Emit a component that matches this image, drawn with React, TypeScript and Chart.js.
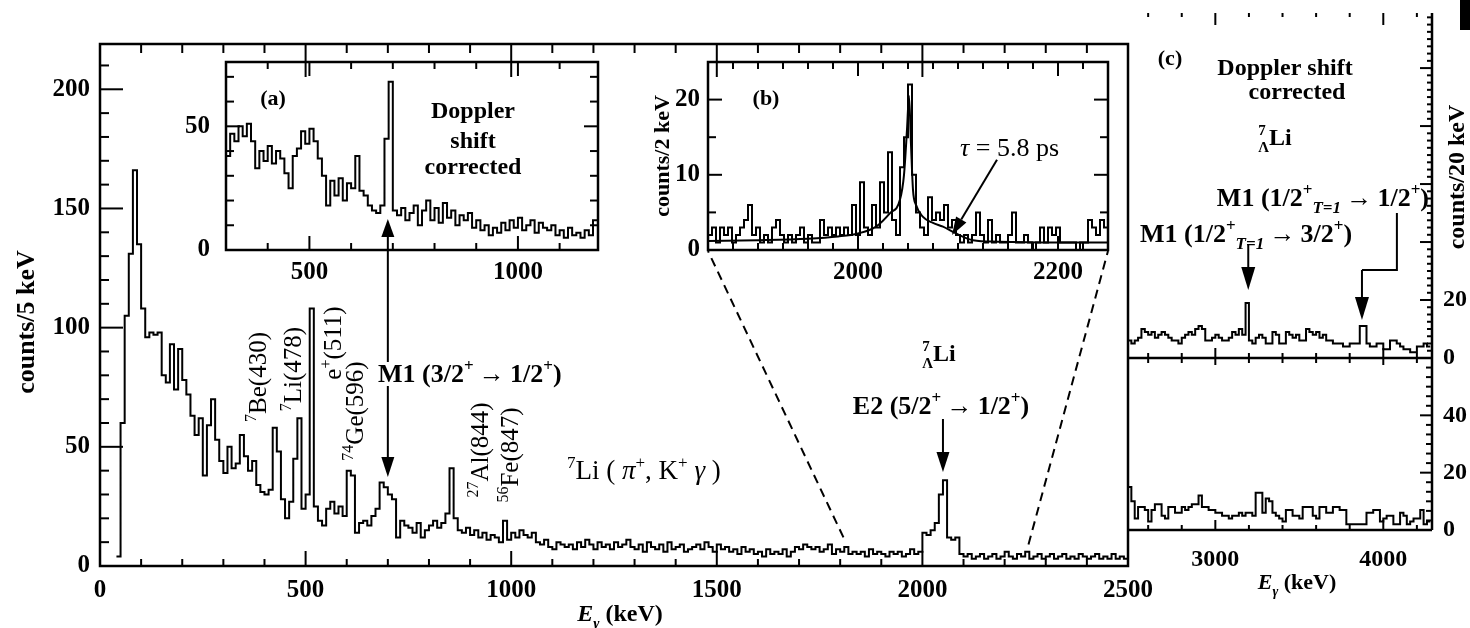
import React, { useEffect, useRef } from 'react';
import { Chart, registerables } from 'chart.js';

Chart.register(...registerables);

const SERIF = '"Liberation Serif", "Times New Roman", Times, serif';
Chart.defaults.font.family = SERIF;
Chart.defaults.color = '#000';

// ---------------- main spectrum: 7Li(pi+, K+ gamma), counts per bin ----------------
const mainStartKeV = 40;
const mainBinKeV = 10;
const mainCounts = [
  4, 60, 105, 131, 166, 135, 108, 96, 98, 97,
  98, 80, 77, 93, 74, 91, 78, 72, 63, 55,
  62, 38, 59, 70, 53, 44, 39, 50, 41, 43,
  55, 46, 40, 44, 34, 31, 30, 32, 58, 48,
  28, 20, 27, 45, 62, 24, 30, 108, 25, 19,
  17, 24, 27, 22, 25, 21, 40, 38, 14, 18,
  19, 17, 21, 24, 35, 33, 30, 28, 12, 19,
  17, 16, 14, 18, 12, 15, 17, 19, 16, 18,
  22, 41, 20, 15, 14, 16, 13, 15, 12, 14,
  11, 13, 12, 10, 19, 11, 14, 12, 15, 13,
  12, 14, 10, 9, 11, 8, 7, 10, 9, 8,
  9, 7, 10, 8, 11, 9, 7, 10, 8, 9,
  7, 10, 8, 9, 11, 8, 7, 9, 6, 10,
  8, 7, 9, 6, 10, 7, 8, 9, 6, 7,
  8, 9, 7, 10, 8, 6, 9, 7, 8, 6,
  7, 5, 8, 6, 7, 5, 6, 4, 7, 5,
  6, 5, 7, 4, 6, 8, 7, 9, 8, 7,
  8, 6, 7, 9, 5, 7, 6, 8, 5, 6,
  5, 6, 4, 7, 5, 6, 5, 4, 6, 5,
  6, 4, 5, 7, 5, 6, 14, 13, 15, 18,
  30, 36, 12, 11, 12, 5, 4, 5, 3, 4,
  5, 3, 4, 5, 3, 4, 6, 4, 3, 5,
  4, 6, 3, 4, 5, 3, 4, 5, 3, 4,
  5, 3, 4, 3, 5, 4, 3, 4, 5, 3,
  4, 3, 5, 3, 4, 3,
];
const mainXLabels = [0, 500, 1000, 1500, 2000, 2500];
const mainYLabels = [0, 50, 100, 150, 200];

// ---------------- inset (a): Doppler shift corrected ----------------
const insetAStartKeV = 300;
const insetABinKeV = 10;
const insetACounts = [
  38, 47, 44, 50, 46, 51, 44, 33, 40, 36,
  42, 35, 40, 37, 31, 25, 38, 41, 48, 43,
  49, 44, 37, 30, 18, 28, 22, 29, 20, 27,
  25, 38, 24, 22, 18, 16, 15, 18, 45, 68,
  16, 14, 17, 12, 15, 18, 10, 16, 20, 12,
  17, 11, 19, 13, 16, 10, 14, 12, 15, 9,
  12, 8, 10, 6, 9, 7, 11, 8, 12, 9,
  13, 8, 10, 12, 7, 11, 9, 8, 10, 6,
  8, 5, 9, 6, 7, 5, 8, 6, 12,
];
const insetAXLabels = [500, 1000];
const insetAYLabels = [0, 50];

// ---------------- inset (b): E2 line with lifetime fit ----------------
const insetBStartKeV = 1850;
const insetBBinKeV = 4;
const insetBCounts = [
  2, 3, 1, 3, 2, 3, 1, 2, 3, 4,
  6, 2, 3, 1, 2, 1, 3, 4, 2, 1,
  2, 1, 2, 3, 1, 2, 1, 1, 4, 2,
  3, 2, 3, 2, 3, 2, 6, 2, 9, 3,
  2, 6, 3, 9, 5, 13, 4, 2, 11, 15,
  22, 10, 5, 3, 2, 7, 4, 5, 4, 6,
  3, 4, 2, 1, 2, 1, 2, 5, 2, 1,
  4, 1, 2, 1, 1, 2, 5, 1, 1, 2,
  1, 0, 1, 3, 1, 3, 2, 3, 1, 1,
  1, 1, 0, 1, 1, 4, 3, 2, 4, 3,
];
const insetBFitKeV = [1850, 1900, 1950, 1980, 2000, 2018, 2032, 2042, 2046, 2049, 2051, 2053, 2055, 2058, 2065, 2075, 2085, 2098, 2115, 2140, 2200, 2250];
const insetBFitCounts = [1.2, 1.3, 1.5, 1.8, 2.2, 3.1, 4.9, 6.7, 10, 16, 20.5, 14, 8, 6, 4.4, 3.6, 3.1, 2.2, 1.3, 1.1, 1.0, 1.0];
const insetBXLabels = [2000, 2200];
const insetBYLabels = [0, 10, 20];

// ---------------- panel (c): high-energy region, counts / 20 keV ----------------
const panelCStartKeV = 2480;
const panelCBinKeV = 20;
const panelCUpperCounts = [
  6, 5, 6, 7, 10, 9, 8, 9, 7, 8,
  9, 8, 7, 6, 6, 5, 7, 8, 9, 8,
  10, 11, 10, 6, 6, 7, 8, 7, 6, 6,
  7, 9, 8, 10, 8, 19, 6, 5, 7, 8,
  7, 5, 5, 9, 8, 5, 5, 9, 8, 7,
  8, 6, 6, 10, 9, 8, 9, 7, 8, 6,
  6, 5, 5, 5, 4, 4, 5, 5, 5, 11,
  11, 5, 4, 4, 5, 5, 3, 3, 6, 6,
  5, 4, 3, 3, 2, 2, 4, 4, 5, 4,
];
const panelCLowerCounts = [
  15, 10, 4, 8, 8, 7, 3, 7, 9, 9,
  5, 4, 8, 8, 6, 6, 8, 7, 8, 9,
  9, 12, 8, 8, 7, 7, 6, 6, 5, 5,
  4, 5, 5, 6, 5, 6, 6, 5, 13, 13,
  6, 11, 10, 6, 5, 4, 3, 7, 7, 5,
  5, 4, 8, 8, 8, 5, 4, 8, 8, 6,
  6, 8, 8, 7, 7, 2, 2, 2, 2, 2,
  2, 6, 6, 7, 7, 3, 4, 5, 5, 2,
  2, 6, 5, 2, 3, 4, 4, 7, 2, 3,
];
const panelCXLabels = [3000, 4000];
const panelCUpperYLabels = [0, 20];
const panelCLowerYLabels = [0, 20, 40];

// ---------------- helpers ----------------
function histPoints(start: number, step: number, counts: number[]) {
  const pts = counts.map((c, i) => ({ x: start + i * step, y: c }));
  pts.push({ x: start + counts.length * step, y: counts[counts.length - 1] });
  return pts;
}

function range(a: number, b: number, s: number) {
  const r: number[] = [];
  for (let v = a; v <= b + 1e-9; v += s) r.push(Math.round(v * 1000) / 1000);
  return r;
}

function line(ctx: any, x1: number, y1: number, x2: number, y2: number) {
  ctx.beginPath();
  ctx.moveTo(x1, y1);
  ctx.lineTo(x2, y2);
  ctx.stroke();
}

function arrow(ctx: any, x1: number, y1: number, x2: number, y2: number, h = 20, w = 6.5) {
  const ang = Math.atan2(y2 - y1, x2 - x1);
  const bx = x2 - h * Math.cos(ang);
  const by = y2 - h * Math.sin(ang);
  line(ctx, x1, y1, bx, by);
  ctx.beginPath();
  ctx.moveTo(x2, y2);
  ctx.lineTo(bx + w * Math.sin(ang), by - w * Math.cos(ang));
  ctx.lineTo(bx - w * Math.sin(ang), by + w * Math.cos(ang));
  ctx.closePath();
  ctx.fill();
}

type Seg = { t: string; sup?: boolean; sub?: boolean; italic?: boolean; noAdvance?: boolean };

function rich(ctx: any, segs: Seg[], x: number, y: number, size: number,
  opts: { align?: 'left' | 'center' | 'right'; bold?: boolean; rot?: number } = {}) {
  ctx.save();
  ctx.translate(x, y);
  if (opts.rot) ctx.rotate(opts.rot);
  ctx.fillStyle = '#000';
  ctx.textBaseline = 'alphabetic';
  ctx.textAlign = 'left';
  const fontOf = (s: Seg) =>
    `${s.italic ? 'italic ' : ''}${opts.bold ? 'bold ' : ''}${s.sup || s.sub ? Math.round(size * 0.64) : size}px ${SERIF}`;
  let total = 0;
  const widths = segs.map((s) => {
    ctx.font = fontOf(s);
    const w = ctx.measureText(s.t).width;
    if (!s.noAdvance) total += w;
    return w;
  });
  let cx = opts.align === 'center' ? -total / 2 : opts.align === 'right' ? -total : 0;
  const base = size * 0.33;
  segs.forEach((s, i) => {
    ctx.font = fontOf(s);
    const dy = s.sup ? -size * 0.4 : s.sub ? size * 0.3 : 0;
    ctx.fillText(s.t, cx, base + dy);
    if (!s.noAdvance) cx += widths[i];
  });
  ctx.restore();
}

const T = (t: string): Seg => ({ t });
const SUP = (t: string): Seg => ({ t, sup: true });
const SUB = (t: string, italic = false): Seg => ({ t, sub: true, italic });
const IT = (t: string): Seg => ({ t, italic: true });
const ARR = '\u2009\u2192\u2009';

const TICK_FONT = { family: SERIF, size: 25, weight: 'bold' as const };
const TICK_FONT_S = { family: SERIF, size: 24, weight: 'bold' as const };

function scaleBase(min: number, max: number, labels: number[], font: any, padding: number, fit: (s: any) => void, extra: any = {}) {
  return {
    type: 'linear',
    min,
    max,
    grid: { display: false, drawTicks: false },
    border: { display: false },
    ticks: { color: '#000', font, padding, maxRotation: 0, autoSkip: false, callback: (v: any) => String(v) },
    afterBuildTicks: (s: any) => { s.ticks = labels.map((v) => ({ value: v })); },
    afterFit: (s: any) => {
      fit(s);
      s.paddingTop = 0;
      s.paddingBottom = 0;
      s.paddingLeft = 0;
      s.paddingRight = 0;
    },
    ...extra,
  };
}

const histDataset = (pts: any[]) => ({
  data: pts,
  stepped: 'before',
  borderColor: '#000',
  borderWidth: 2,
  pointRadius: 0,
  fill: false,
  tension: 0,
});

const commonOptions = {
  animation: false,
  responsive: false,
  maintainAspectRatio: false,
  events: [],
  plugins: { legend: { display: false }, tooltip: { enabled: false }, title: { display: false } },
};

// ---------------- decoration plugins ----------------
const mainDecor = {
  id: 'mainDecor',
  afterDraw(chart: any) {
    const ctx = chart.ctx, a = chart.chartArea, xs = chart.scales.x, ys = chart.scales.y;
    ctx.save();
    ctx.strokeStyle = '#000';
    ctx.fillStyle = '#000';
    ctx.lineWidth = 2;
    for (const v of range(100, 2400, 100)) {
      const p = xs.getPixelForValue(v);
      const major = v % 500 === 0;
      line(ctx, p, a.bottom, p, a.bottom - (major ? 15 : 7));
      line(ctx, p, a.top, p, a.top + (major ? 33 : 9));
    }
    for (const v of range(10, 210, 10)) {
      const p = ys.getPixelForValue(v);
      const major = v % 50 === 0;
      line(ctx, a.left, p, a.left + (major ? 23 : 9), p);
    }
    ctx.lineWidth = 2.5;
    ctx.strokeRect(a.left, a.top, a.right - a.left, a.bottom - a.top);

    // M1 arrow (main peak ↓ and inset (a) ↑)
    ctx.lineWidth = 2;
    const xm1 = xs.getPixelForValue(700);
    line(ctx, xm1, 250, xm1, 362);
    arrow(ctx, xm1, 386, xm1, 477);
    arrow(ctx, xm1, 250, xm1, 219, 18);
    // E2 arrow
    const xe2 = xs.getPixelForValue(2050);
    arrow(ctx, xe2, 419, xe2, 472);
    // dashed zoom lines to inset (b)
    ctx.setLineDash([9, 6]);
    line(ctx, xs.getPixelForValue(1808), ys.getPixelForValue(12), 708, 251);
    line(ctx, xs.getPixelForValue(2258), ys.getPixelForValue(9), 1108, 251);
    ctx.setLineDash([]);

    // axis titles
    rich(ctx, [T('counts/5 keV')], 25, 322, 26, { align: 'center', bold: true, rot: -Math.PI / 2 });
    rich(ctx, [IT('E'), SUB('γ', true), T(' (keV)')], 620, 613, 24, { align: 'center', bold: true });

    // line labels (rotated)
    const R = -Math.PI / 2;
    rich(ctx, [SUP('7'), T('Be(430)')], 258, 377, 25, { align: 'center', rot: R });
    rich(ctx, [SUP('7'), T('Li(478)')], 293, 369, 25, { align: 'center', rot: R });
    rich(ctx, [T('e'), SUP('+'), T('(511)')], 333, 343, 25, { align: 'center', rot: R });
    rich(ctx, [SUP('74'), T('Ge(596)')], 355, 411, 25, { align: 'center', rot: R });
    rich(ctx, [SUP('27'), T('Al(844)')], 480, 450, 25, { align: 'center', rot: R });
    rich(ctx, [SUP('56'), T('Fe(847)')], 510, 455, 25, { align: 'center', rot: R });

    rich(ctx, [T('M1 (3/2'), SUP('+'), T(ARR + '1/2'), SUP('+'), T(')')], 378, 373, 26, { bold: true });
    rich(ctx, [SUP('7'), T('Li ( '), IT('π'), SUP('+'), T(', K'), SUP('+'), T(' '), IT('γ'), T(' )')], 567, 470, 27);
    rich(ctx, [{ t: '7', sup: true, noAdvance: true }, SUB('Λ'), T('Li')], 939, 353, 24, { align: 'center', bold: true });
    rich(ctx, [T('E2 (5/2'), SUP('+'), T(ARR + '1/2'), SUP('+'), T(')')], 941, 405, 26, { align: 'center', bold: true });
    ctx.restore();
  },
};

const insetADecor = {
  id: 'insetADecor',
  afterDraw(chart: any) {
    const ctx = chart.ctx, a = chart.chartArea, xs = chart.scales.x, ys = chart.scales.y;
    ctx.save();
    ctx.strokeStyle = '#000';
    ctx.lineWidth = 2;
    for (const v of range(400, 1100, 100)) {
      const p = xs.getPixelForValue(v);
      const L = v % 500 === 0 ? 14 : 7;
      line(ctx, p, a.bottom, p, a.bottom - L);
      line(ctx, p, a.top, p, a.top + L);
    }
    for (const v of range(10, 70, 10)) {
      const p = ys.getPixelForValue(v);
      const L = v % 50 === 0 ? 14 : 8;
      line(ctx, a.left, p, a.left + L, p);
      line(ctx, a.right, p, a.right - L, p);
    }
    ctx.lineWidth = 2.5;
    ctx.strokeRect(a.left, a.top, a.right - a.left, a.bottom - a.top);
    ctx.translate(-150, -50);
    rich(ctx, [T('(a)')], 273, 98, 22, { align: 'center', bold: true });
    rich(ctx, [T('Doppler')], 473, 110, 24, { align: 'center', bold: true });
    rich(ctx, [T('shift')], 473, 140, 24, { align: 'center', bold: true });
    rich(ctx, [T('corrected')], 473, 166, 24, { align: 'center', bold: true });
    ctx.restore();
  },
};

const insetBDecor = {
  id: 'insetBDecor',
  afterDraw(chart: any) {
    const ctx = chart.ctx, a = chart.chartArea, xs = chart.scales.x, ys = chart.scales.y;
    ctx.save();
    ctx.strokeStyle = '#000';
    ctx.fillStyle = '#000';
    ctx.lineWidth = 2;
    for (const v of range(1875, 2225, 25)) {
      const p = xs.getPixelForValue(v);
      const L = v === 2000 || v === 2200 ? 14 : 7;
      line(ctx, p, a.bottom, p, a.bottom - L);
      line(ctx, p, a.top, p, a.top + L);
    }
    for (const v of range(5, 20, 5)) {
      const p = ys.getPixelForValue(v);
      const L = v % 10 === 0 ? 14 : 8;
      line(ctx, a.left, p, a.left + L, p);
      line(ctx, a.right, p, a.right - L, p);
    }
    ctx.lineWidth = 2.5;
    ctx.strokeRect(a.left, a.top, a.right - a.left, a.bottom - a.top);
    ctx.lineWidth = 2;
    arrow(ctx, xs.getPixelForValue(2139), ys.getPixelForValue(12), xs.getPixelForValue(2094), ys.getPixelForValue(2.0), 18, 6);
    ctx.translate(-640, -50);
    rich(ctx, [T('(b)')], 766, 98, 22, { align: 'center', bold: true });
    rich(ctx, [IT('τ'), T(' = 5.8 ps')], 960, 147, 26);
    rich(ctx, [T('counts/2 keV')], 662, 156, 22, { align: 'center', bold: true, rot: -Math.PI / 2 });
    ctx.restore();
  },
};

const panelUpperDecor = {
  id: 'panelUpperDecor',
  afterDraw(chart: any) {
    const ctx = chart.ctx, a = chart.chartArea, xs = chart.scales.x, ys = chart.scales.y;
    ctx.save();
    ctx.strokeStyle = '#000';
    ctx.fillStyle = '#000';
    ctx.lineWidth = 2;
    for (const v of range(2600, 4200, 200)) {
      const p = xs.getPixelForValue(v);
      const major = v === 3000 || v === 4000;
      line(ctx, p, a.top, p, a.top + (major ? 12 : 4));
      line(ctx, p, a.bottom, p, a.bottom - (major ? 10 : 5));
      line(ctx, p, a.bottom, p, a.bottom + (major ? 15 : 5));
    }
    for (const v of range(2.5, 117.5, 2.5)) {
      const p = ys.getPixelForValue(v);
      line(ctx, a.right, p, a.right - (v % 20 === 0 ? 12 : 5), p);
    }
    ctx.lineWidth = 2.5;
    line(ctx, a.right, a.top, a.right, a.bottom);
    line(ctx, a.left, a.bottom, a.right, a.bottom);
    ctx.lineWidth = 2;
    // arrows
    const x1 = xs.getPixelForValue(3196);
    arrow(ctx, x1, 245, x1, 290, 23, 7);
    const xa = xs.getPixelForValue(4081), xb = xs.getPixelForValue(3873);
    ctx.beginPath();
    ctx.moveTo(xa, 213);
    ctx.lineTo(xa, 270);
    ctx.lineTo(xb, 270);
    ctx.stroke();
    arrow(ctx, xb, 270, xb, 320, 23, 7);

    ctx.translate(-1118, 0);
    rich(ctx, [T('(c)')], 1170, 58, 22, { align: 'center', bold: true });
    rich(ctx, [T('Doppler shift')], 1285, 67, 24, { align: 'center', bold: true });
    rich(ctx, [T('corrected')], 1297, 91, 24, { align: 'center', bold: true });
    rich(ctx, [{ t: '7', sup: true, noAdvance: true }, SUB('Λ'), T('Li')], 1275, 137, 24, { align: 'center', bold: true });
    rich(ctx, [T('M1 (1/2'), SUP('+'), SUB('T=1', true), T(ARR + '1/2'), SUP('+'), T(')')], 1429, 197, 26, { align: 'right', bold: true });
    rich(ctx, [T('M1 (1/2'), SUP('+'), SUB('T=1', true), T(ARR + '3/2'), SUP('+'), T(')')], 1140, 233, 26, { bold: true });
    rich(ctx, [T('counts/20 keV')], 1456, 177, 24, { align: 'center', bold: true, rot: -Math.PI / 2 });
    ctx.restore();
  },
};

const panelLowerDecor = {
  id: 'panelLowerDecor',
  afterDraw(chart: any) {
    const ctx = chart.ctx, a = chart.chartArea, xs = chart.scales.x, ys = chart.scales.y;
    ctx.save();
    ctx.strokeStyle = '#000';
    ctx.fillStyle = '#000';
    ctx.lineWidth = 2;
    for (const v of range(2600, 4200, 200)) {
      const p = xs.getPixelForValue(v);
      const major = v === 3000 || v === 4000;
      line(ctx, p, a.bottom, p, a.bottom - (major ? 10 : 5));
    }
    for (let k = 1; k < 18; k++) {
      const v = (k * 20) / 6;
      const p = ys.getPixelForValue(v);
      line(ctx, a.right, p, a.right - (k % 6 === 0 ? 12 : 6), p);
    }
    ctx.lineWidth = 2.5;
    line(ctx, a.right, a.top, a.right, a.bottom);
    line(ctx, a.left, a.bottom, a.right, a.bottom);
    ctx.translate(-1118, -350);
    rich(ctx, [IT('E'), SUB('γ', true), T(' (keV)')], 1297, 582, 22, { align: 'center', bold: true });
    ctx.restore();
  },
};

// ---------------- component ----------------
export default function App() {
  const mainRef = useRef<HTMLCanvasElement>(null);
  const aRef = useRef<HTMLCanvasElement>(null);
  const bRef = useRef<HTMLCanvasElement>(null);
  const cuRef = useRef<HTMLCanvasElement>(null);
  const clRef = useRef<HTMLCanvasElement>(null);

  useEffect(() => {
    const charts: any[] = [];
    const lay = (left: number, top: number, right: number, bottom: number) => ({
      autoPadding: false,
      padding: { left, top, right, bottom },
    });

    charts.push(new Chart(mainRef.current as any, {
      type: 'line',
      data: { datasets: [histDataset(histPoints(mainStartKeV, mainBinKeV, mainCounts)) as any] },
      options: {
        ...commonOptions,
        layout: lay(0, 44, 342, 0),
        scales: {
          x: scaleBase(0, 2500, mainXLabels, TICK_FONT, 10, (s: any) => { s.height = 62; }),
          y: scaleBase(0, 219, mainYLabels, TICK_FONT, 10, (s: any) => { s.width = 100; }),
        },
      } as any,
      plugins: [mainDecor],
    }));

    charts.push(new Chart(aRef.current as any, {
      type: 'line',
      data: { datasets: [histDataset(histPoints(insetAStartKeV, insetABinKeV, insetACounts)) as any] },
      options: {
        ...commonOptions,
        layout: lay(0, 12, 12, 0),
        scales: {
          x: scaleBase(300, 1192, insetAXLabels, TICK_FONT, 8, (s: any) => { s.height = 40; }),
          y: scaleBase(0, 76, insetAYLabels, TICK_FONT, 16, (s: any) => { s.width = 76; }),
        },
      } as any,
      plugins: [insetADecor],
    }));

    charts.push(new Chart(bRef.current as any, {
      type: 'line',
      data: {
        datasets: [
          histDataset(histPoints(insetBStartKeV, insetBBinKeV, insetBCounts)) as any,
          {
            data: insetBFitKeV.map((x, i) => ({ x, y: insetBFitCounts[i] })),
            borderColor: '#000',
            borderWidth: 2,
            pointRadius: 0,
            fill: false,
            cubicInterpolationMode: 'monotone',
          } as any,
        ],
      },
      options: {
        ...commonOptions,
        layout: lay(0, 12, 12, 0),
        scales: {
          x: scaleBase(1850, 2250, insetBXLabels, TICK_FONT, 8, (s: any) => { s.height = 40; }),
          y: scaleBase(0, 25, insetBYLabels, TICK_FONT, 8, (s: any) => { s.width = 68; }),
        },
      } as any,
      plugins: [insetBDecor],
    }));

    charts.push(new Chart(cuRef.current as any, {
      type: 'line',
      data: { datasets: [histDataset(histPoints(panelCStartKeV, panelCBinKeV, panelCUpperCounts)) as any] },
      options: {
        ...commonOptions,
        layout: lay(10, 13, 0, 7),
        scales: {
          x: { type: 'linear', min: 2480, max: 4290, display: false },
          y: scaleBase(0, 119, panelCUpperYLabels, TICK_FONT_S, 11, (s: any) => { s.width = 38; }, { position: 'right' }),
        },
      } as any,
      plugins: [panelUpperDecor],
    }));

    charts.push(new Chart(clRef.current as any, {
      type: 'line',
      data: { datasets: [histDataset(histPoints(panelCStartKeV, panelCBinKeV, panelCLowerCounts)) as any] },
      options: {
        ...commonOptions,
        layout: lay(10, 8, 0, 0),
        scales: {
          x: scaleBase(2480, 4290, panelCXLabels, TICK_FONT_S, 15, (s: any) => { s.height = 98; }),
          y: scaleBase(0, 60, panelCLowerYLabels, TICK_FONT_S, 11, (s: any) => { s.width = 38; }, { position: 'right' }),
        },
      } as any,
      plugins: [panelLowerDecor],
    }));

    return () => { charts.forEach((c) => c.destroy()); };
  }, []);

  const cv = (ref: any, x: number, y: number, w: number, h: number) => (
    <canvas ref={ref} width={w} height={h} style={{ position: 'absolute', left: x, top: y, width: w, height: h }} />
  );

  return (
    <div style={{ position: 'fixed', left: 0, top: 0, width: 1470, height: 628, background: '#fff', overflow: 'hidden' }}>
      {cv(mainRef, 0, 0, 1470, 628)}
      {cv(aRef, 150, 50, 460, 240)}
      {cv(bRef, 640, 50, 480, 240)}
      {cv(cuRef, 1118, 0, 352, 365)}
      {cv(clRef, 1118, 350, 352, 278)}
      <div style={{ position: 'absolute', left: 1460, top: 0, width: 10, height: 30, background: '#000' }} />
    </div>
  );
}
